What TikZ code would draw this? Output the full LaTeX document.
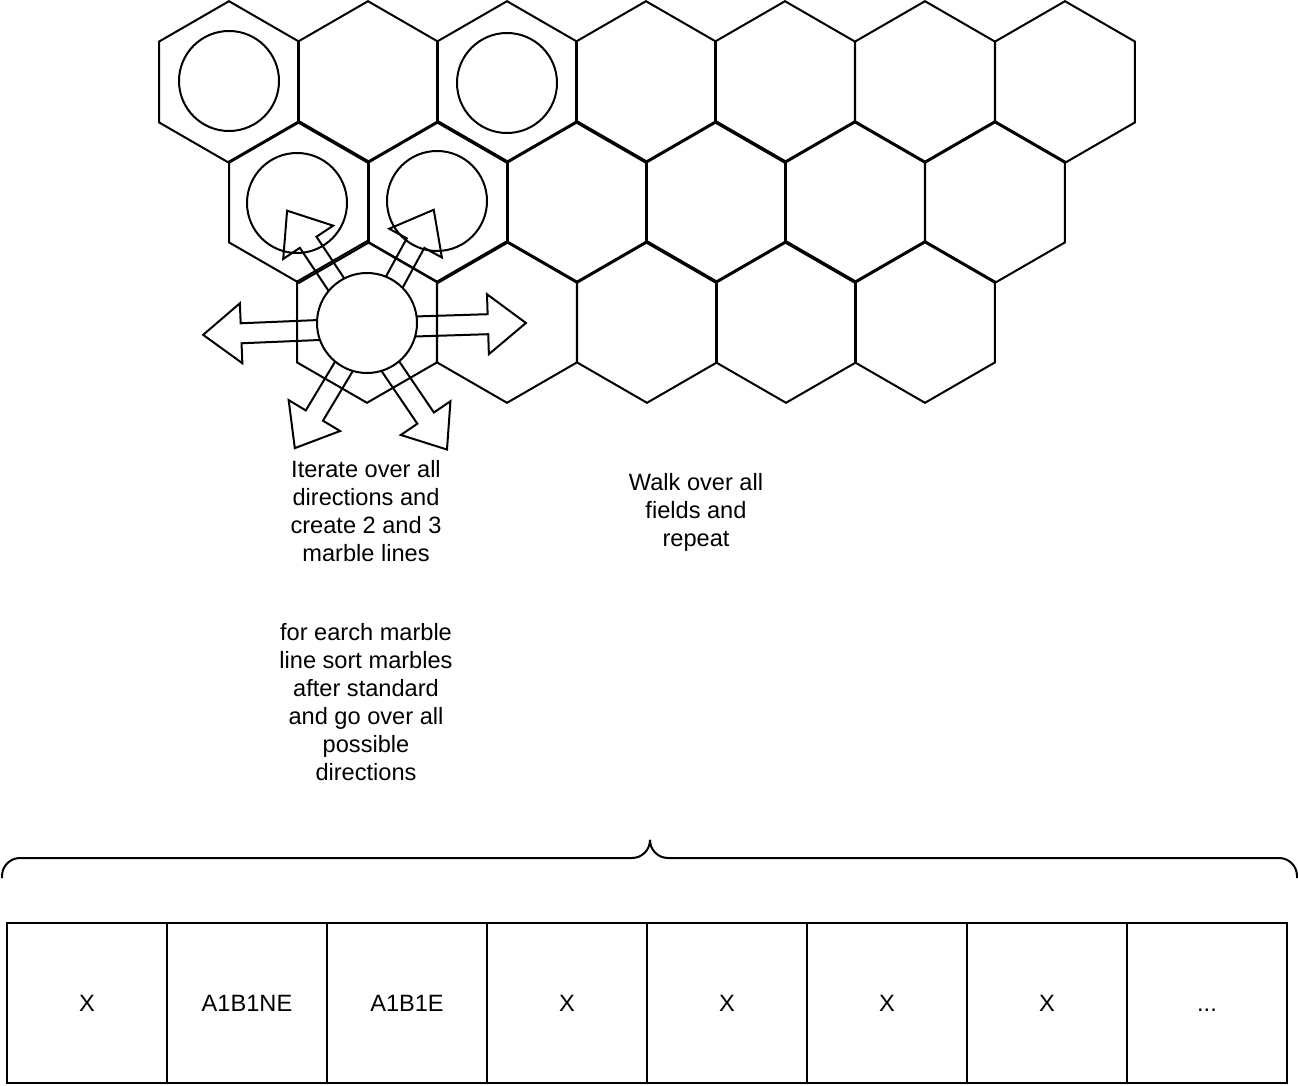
\documentclass[tikz,border=0pt]{standalone}
\usepackage{fontspec}
\setmainfont{Liberation Sans}
\usepackage{tikz}
\usetikzlibrary{shapes,positioning,calc}

\tikzset{
  hexcell/.style={draw,regular polygon,regular polygon sides=6,shape border rotate=30,minimum size=80.8pt,inner sep=0pt,line width=1pt},
  marble/.style={draw,circle,minimum size=50pt,inner sep=0pt,line width=1pt},
  cellbox/.style={draw,minimum size=80pt,inner sep=0pt,line width=1pt,text height=8.45pt,text depth=0pt},
  note/.style={align=center,font=\fontsize{11.8}{14}\selectfont}
}

\newcommand{\fatarrow}[4]{\draw[line width=1pt,line join=miter,shift={(#1,#2)},rotate=#3] (0,-10) -- (#4-38,-10) -- (#4-38,-30) -- (#4,0) -- (#4-38,30) -- (#4-38,10) -- (0,10);}

\begin{document}
\begin{tikzpicture}[x=0.5pt,y=-0.5pt]

\useasboundingbox (0,0) rectangle (1298,1086);

% the board
\node[hexcell] (ha1) at (229,82) {};
\node[hexcell] (ha2) at (368,82) {};
\node[hexcell] (ha3) at (507,82) {};
\node[hexcell] (ha4) at (646,82) {};
\node[hexcell] (ha5) at (785,82) {};
\node[hexcell] (ha6) at (925,82) {};
\node[hexcell] (ha7) at (1065,82) {};

\node[hexcell] (hb1) at (299,202) {};
\node[hexcell] (hb2) at (438,202) {};
\node[hexcell] (hb3) at (577,202) {};
\node[hexcell] (hb4) at (716,202) {};
\node[hexcell] (hb5) at (855,202) {};
\node[hexcell] (hb6) at (995,202) {};

\node[hexcell] (hc1) at (367,322) {};
\node[hexcell] (hc2) at (507,322) {};
\node[hexcell] (hc3) at (647,322) {};
\node[hexcell] (hc4) at (786,322) {};
\node[hexcell] (hc5) at (925,322) {};

\node[marble] (ma1) at (229,81) {};
\node[marble] (ma3) at (507,83) {};
\node[marble] (mb1) at (297,203) {};
\node[marble] (mb2) at (437,201) {};

% directions
\fatarrow{367}{328}{182.4}{164}
\fatarrow{367}{328}{1.8}{159}
\fatarrow{362}{323}{123.7}{135}
\fatarrow{372}{323}{61.4}{129}
\fatarrow{370}{323}{239}{146}
\fatarrow{361}{323}{-55.8}{153}

\node[marble,fill=white] (mid) at (367,323) {};

\node[note] (iter) at (366,511) {Iterate over all\\directions and\\create 2 and 3\\marble lines};
\node[note] (walk) at (696,512) {Walk over all\\fields and\\repeat};
\node[note] (sortl) at (366,702) {for earch marble\\line sort marbles\\after standard\\and go over all\\possible\\directions};

% brace
\draw[line width=1pt,rounded corners=9] (2,878) |- (650,858) -- (650,841);
\draw[line width=1pt,rounded corners=9] (1297,878) |- (650,858) -- (650,841);

% result list
\node[cellbox,note] (c1) at (87,1003) {X};
\node[cellbox,note] (c2) at (247,1003) {A1B1NE};
\node[cellbox,note] (c3) at (407,1003) {A1B1E};
\node[cellbox,note] (c4) at (567,1003) {X};
\node[cellbox,note] (c5) at (727,1003) {X};
\node[cellbox,note] (c6) at (887,1003) {X};
\node[cellbox,note] (c7) at (1047,1003) {X};
\node[cellbox,note] (c8) at (1207,1003) {...};

\end{tikzpicture}
\end{document}
